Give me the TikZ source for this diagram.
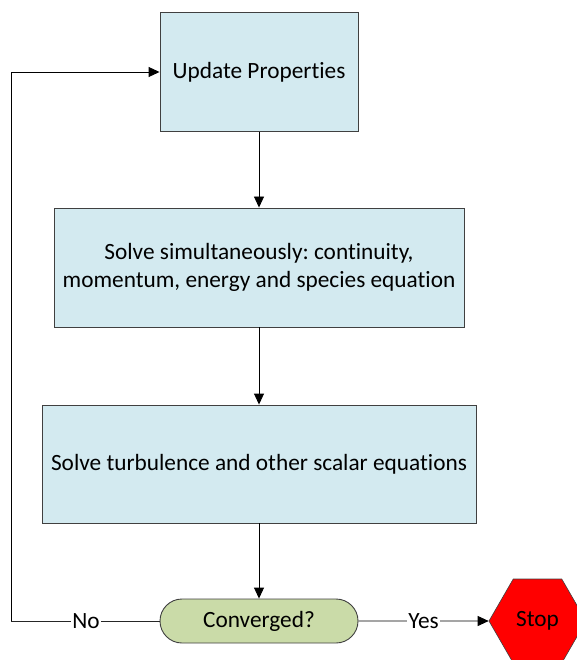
\documentclass[tikz,border=0pt]{standalone}
\usepackage{fontspec}
\setmainfont[Ligatures={NoCommon}]{Carlito}
\frenchspacing
\usetikzlibrary{arrows.meta,shapes.geometric,shapes.misc}

\definecolor{boxfill}{RGB}{211,234,240}
\definecolor{pillfill}{RGB}{202,219,168}
\definecolor{edgegray}{RGB}{64,64,64}

\tikzset{
  bigtext/.style={font=\fontsize{23.3}{28}\selectfont},
  stepbox/.style={draw=edgegray, fill=boxfill, line width=0.9pt, inner sep=0pt,
    align=center, bigtext},
  decision/.style={draw=edgegray, fill=pillfill, line width=0.9pt, rounded rectangle,
    inner sep=0pt, minimum width=198pt, minimum height=44pt, bigtext},
  stopsign/.style={draw=edgegray, fill=red, regular polygon, regular polygon sides=6,
    minimum size=97pt, inner sep=0pt, line width=0.6pt, bigtext},
  flow/.style={draw=black, line width=0.9pt, -{Triangle[length=11pt,width=10pt]}},
  plain/.style={draw=black!85, line width=0.9pt},
  edgelabel/.style={fill=white, inner sep=1pt, bigtext}
}

\begin{document}
\begin{tikzpicture}[x=1pt,y=-1pt]
  \useasboundingbox (0,0) rectangle (576,660);

  % process steps
  \node[stepbox, minimum width=198pt, minimum height=119pt] (update) at (259,72) {Update Properties};
  \node[stepbox, minimum width=410pt, minimum height=119pt] (solve) at (259,267.5)
    {Solve simultaneously: continuity,\\momentum, energy and species equation};
  \node[stepbox, minimum width=434pt, minimum height=118pt] (turb) at (259,464)
    {Solve turbulence and other scalar equations};

  % convergence check and stop
  \node[decision] (conv) at (259,621) {Converged?};
  \node[stopsign] (stop) at (537.5,621) {Stop};

  % loop corner on the left
  \coordinate (loopbot) at (11,621);
  \coordinate (looptop) at (11,72);

  % connectors
  \draw[flow] (update) -- (solve);
  \draw[flow] (solve) -- (turb);
  \draw[flow] (turb) -- (conv);
  \draw[flow] (conv.east) -- node[edgelabel] {Yes} (stop.west);
  \draw[plain] (conv.west) -- node[edgelabel, pos=0.495] {No} (loopbot);
  \draw[flow] (loopbot) -- (looptop) -- (update.west);
\end{tikzpicture}
\end{document}
